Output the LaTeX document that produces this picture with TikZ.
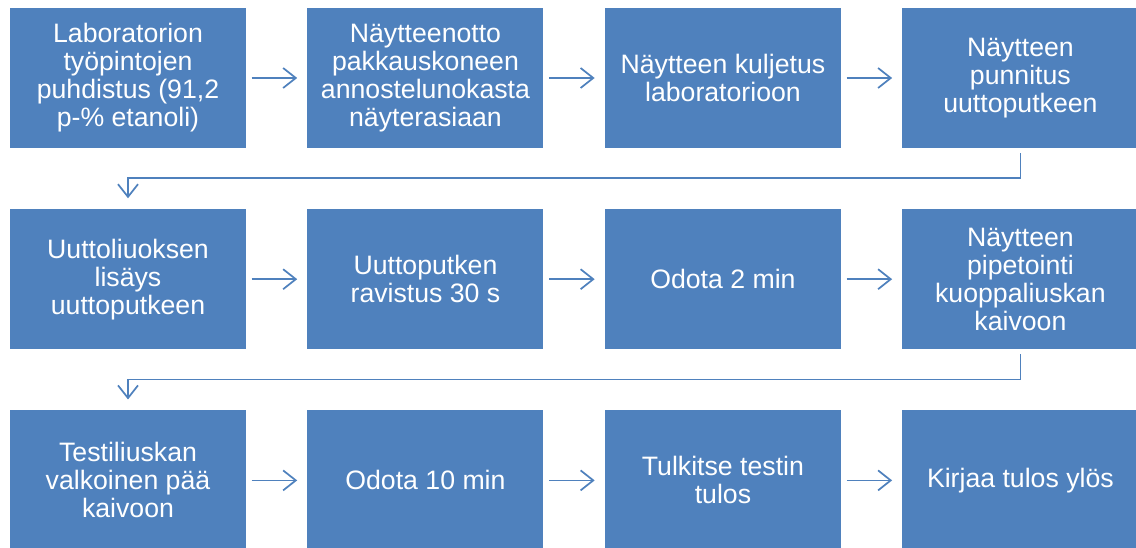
\documentclass[tikz,border=0pt]{standalone}
\usepackage{fontspec}
\setmainfont{Liberation Sans}
\usepackage{tikz}
\usetikzlibrary{arrows.meta, positioning}
\definecolor{boxblue}{HTML}{4F81BD}
\tikzset{%
	stage/.style={draw=none, rectangle, fill=boxblue, text=white, minimum width=177pt,%
		minimum height=105pt, inner sep=0mm, align=center,%
		font=\fontsize{20pt}{21pt}\selectfont},
	flow/.style={draw=boxblue, line width=1.3pt,%
		-{Straight Barb[length=9.5pt, width=15pt, line width=1.3pt]}},
	next/.style={flow, shorten <=4pt, shorten >=7.5pt},
	wrap/.style={flow, shorten <=3.75pt, shorten >=8pt}
}
\begin{document}
\begin{tikzpicture}[x=0.75pt, y=-0.75pt, node distance=45.5pt and 45.7pt]
	\useasboundingbox (0,0) rectangle (1136,548);
	% first row
	\node[stage] at (128,78)     (s1)  {Laboratorion\\työpintojen\\puhdistus (91,2\\p-\% etanoli)};
	\node[stage, right=of s1]    (s2)  {Näytteenotto\\pakkauskoneen\\annostelunokasta\\näyterasiaan};
	\node[stage, right=of s2]    (s3)  {Näytteen kuljetus\\laboratorioon};
	\node[stage, right=of s3]    (s4)  {Näytteen\\punnitus\\uuttoputkeen};
	% second row
	\node[stage, below=of s1]    (s5)  {Uuttoliuoksen\\lisäys\\uuttoputkeen};
	\node[stage, right=of s5]    (s6)  {Uuttoputken\\ravistus 30 s};
	\node[stage, right=of s6]    (s7)  {Odota 2 min};
	\node[stage, right=of s7]    (s8)  {Näytteen\\pipetointi\\kuoppaliuskan\\kaivoon};
	% third row
	\node[stage, below=of s5]    (s9)  {Testiliuskan\\valkoinen pää\\kaivoon};
	\node[stage, right=of s9]    (s10) {Odota 10 min};
	\node[stage, right=of s10]   (s11) {Tulkitse testin\\tulos};
	\node[stage, right=of s11]   (s12) {Kirjaa tulos ylös};

	\draw[next] (s1) -- (s2);
	\draw[next] (s2) -- (s3);
	\draw[next] (s3) -- (s4);
	\draw[wrap] (s4.south) -- ++(0,30) -| (s5.north);
	\draw[next] (s5) -- (s6);
	\draw[next] (s6) -- (s7);
	\draw[next] (s7) -- (s8);
	\draw[wrap] (s8.south) -- ++(0,30) -| (s9.north);
	\draw[next] (s9) -- (s10);
	\draw[next] (s10) -- (s11);
	\draw[next] (s11) -- (s12);
\end{tikzpicture}
\end{document}
